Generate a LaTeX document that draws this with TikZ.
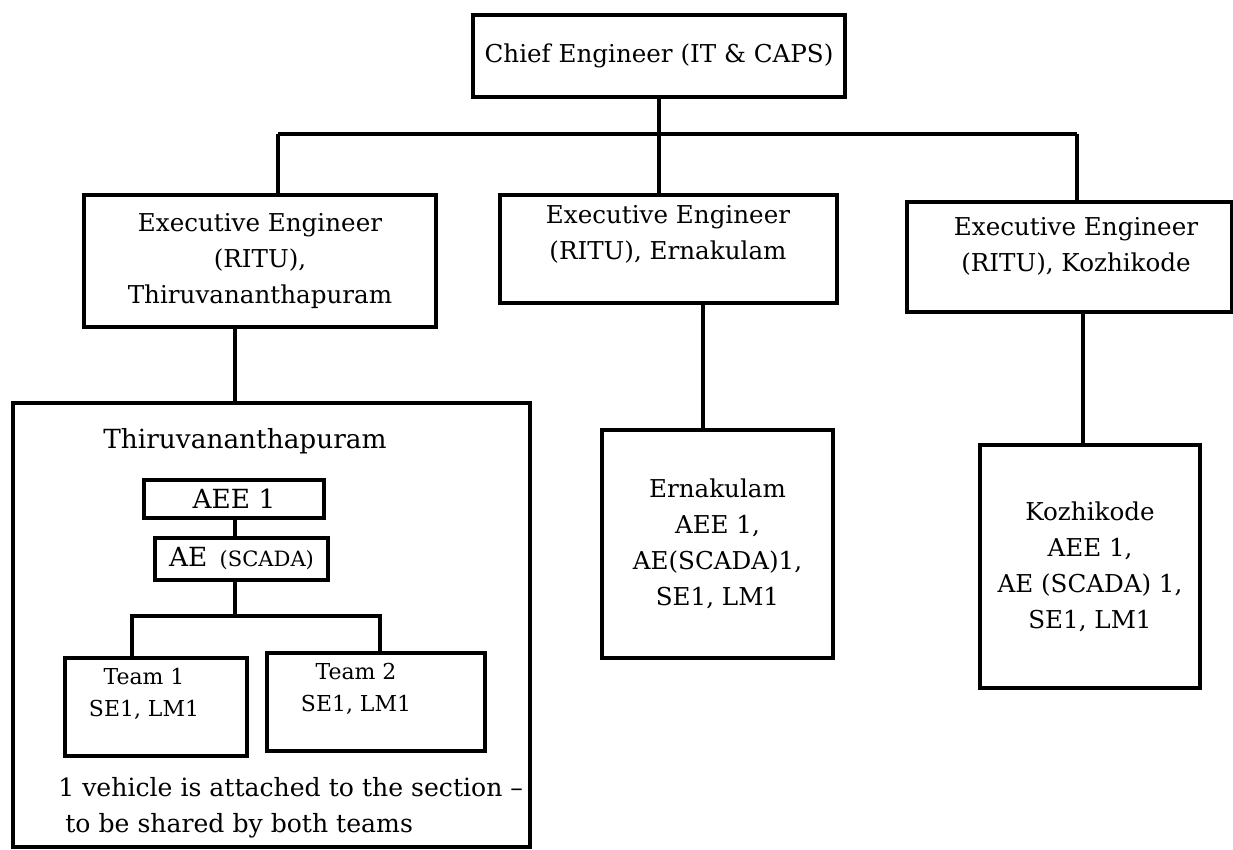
\documentclass[tikz,border=0pt]{standalone}
\usepackage{fontspec}
\setmainfont{DejaVu Serif}
\usepackage{tikz}
\usetikzlibrary{positioning}

\tikzset{
  box/.style={draw, line width=2.2pt, inner sep=0pt, align=center},
  txt/.style={align=center, inner sep=0pt},
  link/.style={line width=2.2pt}
}

\begin{document}
\begin{tikzpicture}[x=0.02cm, y=-0.02cm, font=\fontsize{14}{20.5}\selectfont]
    \useasboundingbox (0,0) rectangle (1233,849);

    % draw top box
    \node[box, minimum width=7.44cm, minimum height=1.64cm] (chief) at (659,56) {Chief Engineer (IT \& CAPS)};

    % draw executive engineer boxes
    \node[box, minimum width=7.04cm, minimum height=2.64cm] (eeT) at (260,261) {Executive Engineer\\(RITU),\\Thiruvananthapuram};
    \node[box, minimum width=6.74cm, minimum height=2.16cm] (eeE) at (668.5,249) {};
    \node[txt] (eeEtxt) at (668,234) {Executive Engineer\\(RITU), Ernakulam};
    \node[box, minimum width=6.5cm, minimum height=2.2cm] (eeK) at (1069.5,257) {};
    \node[txt] (eeKtxt) at (1076,246) {Executive Engineer\\(RITU), Kozhikode};

    % draw section boxes
    \node[box, minimum width=10.34cm, minimum height=8.88cm] (secT) at (271.5,625) {};
    \node[box, minimum width=4.62cm, minimum height=4.56cm] (secE) at (717.5,544) {Ernakulam\\AEE 1,\\AE(SCADA)1,\\SE1, LM1};
    \node[box, minimum width=4.4cm, minimum height=4.86cm] (secK) at (1090,566.5) {Kozhikode\\AEE 1,\\AE (SCADA) 1,\\SE1, LM1};

    % draw inside of Thiruvananthapuram section
    \node[txt, font=\fontsize{15}{21}\selectfont] (secTtitle) at (245,441) {Thiruvananthapuram};
    \node[box, minimum width=3.6cm, minimum height=0.76cm, font=\fontsize{15}{20}\selectfont] (aee) at (234,499) {AEE 1};
    \node[box, minimum width=3.46cm, minimum height=0.84cm, font=\fontsize{15}{20}\selectfont] (ae) at (241.5,559) {AE\hspace{7pt}{\fontsize{12}{14}\selectfont (SCADA)}};
    \node[box, minimum width=3.64cm, minimum height=1.96cm] (team1) at (156,707) {};
    \node[txt, font=\fontsize{12.5}{18}\selectfont] (team1txt) at (144,694) {Team 1\\SE1, LM1};
    \node[box, minimum width=4.36cm, minimum height=1.96cm] (team2) at (376,702) {};
    \node[txt, font=\fontsize{12.5}{18}\selectfont] (team2txt) at (356,689) {Team 2\\SE1, LM1};
    \node[txt, align=left, anchor=west, font=\fontsize{14.3}{20.5}\selectfont] (vehicle) at (58,808) {1 vehicle is attached to the section \textendash\\\hspace{4pt}to be shared by both teams};

    % draw connectors
    \coordinate (busL) at (278,134);
    \coordinate (busR) at (1077,134);
    \coordinate (dropT) at (235,0);
    \coordinate (dropE) at (703,0);
    \coordinate (dropK) at (1083,0);
    \coordinate (forkL) at (132,616);
    \coordinate (forkR) at (380,616);

    \draw[link] (busL) -- (busR);
    \draw[link] (chief.south) -- (chief.south |- eeE.north);
    \draw[link] (busL) -- (busL |- eeT.north);
    \draw[link] (busR) -- (busR |- eeK.north);
    \draw[link] (eeT.south -| dropT) -- (secT.north -| dropT);
    \draw[link] (eeE.south -| dropE) -- (secE.north -| dropE);
    \draw[link] (eeK.south -| dropK) -- (secK.north -| dropK);
    \draw[link] (aee.south -| dropT) -- (ae.north -| dropT);
    \draw[link] (ae.south -| dropT) -- (forkL -| dropT);
    \draw[link] (forkL |- team1.north) -- (forkL) -- (forkR) -- (forkR |- team2.north);

\end{tikzpicture}
\end{document}
